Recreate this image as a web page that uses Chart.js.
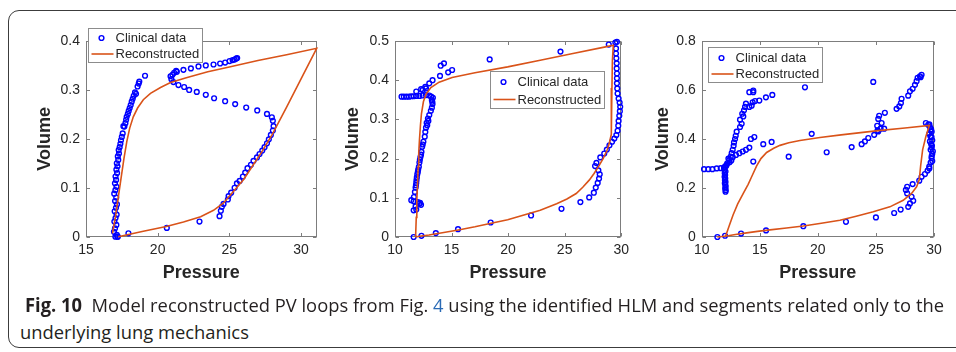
<!DOCTYPE html>
<html><head><meta charset="utf-8">
<script src="https://cdn.jsdelivr.net/npm/chart.js@4.4.1/dist/chart.umd.min.js"></script>
<style>
html,body{margin:0;padding:0;background:#fff;width:956px;height:352px;overflow:hidden;}
body{position:relative;}
.frame{position:absolute;left:8px;top:10px;width:1000px;height:338px;border:1px solid #3c3c3c;border-radius:11px;box-sizing:border-box;}
canvas{position:absolute;}
.cap{position:absolute;font-family:"Open Sans",sans-serif;font-size:19px;line-height:27px;color:#231f20;white-space:nowrap;transform-origin:0 0;}
.cap b{font-weight:700;}
.cap .lnk{color:#2a6ab5;}
</style></head>
<body>
<div class="frame"></div>
<canvas id="c1" width="312" height="280" style="left:22px;top:15px"></canvas>
<canvas id="c2" width="298" height="280" style="left:336px;top:15px"></canvas>
<canvas id="c3" width="316" height="280" style="left:640px;top:15px"></canvas>
<div id="cap1" class="cap" style="left:25px;top:292px"><b>Fig. 10</b>&nbsp; Model reconstructed PV loops from Fig. <span class="lnk">4</span> using the identified HLM and segments related only to the</div>
<div id="cap2" class="cap" style="left:20px;top:319px">underlying lung mechanics</div>
<script>
// ---------- DATA ----------
const seriesLabels = ["Clinical data", "Reconstructed"];
const xTitle = "Pressure";
const yTitle = "Volume";

// Panel 1
const p1ClinP = [17.05,17.22,17.15,16.95,17.02,17.12,16.98,17.06,17.14,17.0,17.09,17.16,17.03,17.11,16.97,17.05,17.13,17.02,17.1,17.06,17.17,17.12,17.2,17.15,17.25,17.22,17.3,17.28,17.35,17.4,17.44,17.5,17.56,17.61,17.68,17.75,17.8,17.84,17.92,17.98,18.05,18.12,18.19,18.26,18.33,18.42,18.49,18.6,18.68,18.72,19.12,
 20.9,20.96,21.03,21.15,21.29,21.34,21.8,22.32,22.85,23.36,23.9,24.36,24.71,25.02,25.23,25.37,25.48,25.55,
 21.1,21.45,21.85,22.2,22.73,23.36,23.94,24.71,25.41,26.18,26.95,27.63,27.97,28.04,
 28.09,28.04,27.9,27.76,27.63,27.46,27.3,27.11,26.93,26.69,26.51,26.27,26.11,25.95,25.72,25.53,25.37,25.13,24.95,24.9,24.6,24.48,24.41,24.32,22.92,20.64,17.96,17.19];
const p1ClinV = [0.000,0.000,0.004,0.010,0.017,0.024,0.031,0.038,0.045,0.052,0.059,0.066,0.073,0.080,0.088,0.095,0.102,0.109,0.116,0.123,0.130,0.137,0.144,0.150,0.157,0.164,0.170,0.177,0.183,0.190,0.197,0.204,0.211,0.226,0.225,0.232,0.239,0.245,0.251,0.257,0.263,0.269,0.276,0.282,0.288,0.295,0.292,0.307,0.313,0.317,0.329,
 0.328,0.322,0.331,0.335,0.339,0.337,0.341,0.344,0.348,0.350,0.352,0.354,0.356,0.359,0.361,0.362,0.364,0.365,
 0.316,0.310,0.306,0.300,0.296,0.290,0.283,0.277,0.271,0.264,0.258,0.251,0.244,0.237,
 0.226,0.217,0.208,0.199,0.191,0.183,0.176,0.169,0.162,0.155,0.147,0.140,0.131,0.123,0.114,0.109,0.100,0.090,0.083,0.076,0.067,0.061,0.053,0.042,0.031,0.018,0.007,0.000];
const p1RecP = [16.85,17.05,17.25,17.45,17.65,17.85,18.05,18.3,18.6,19.0,19.5,20.2,20.9,22.0,23.5,25.0,27.0,29.0,31.1,
 30.0,29.0,28.0,27.3,26.7,26.0,25.3,24.6,23.9,23.0,21.8,20.6,19.0,17.25];
const p1RecV = [0.007,0.04,0.08,0.12,0.16,0.195,0.222,0.245,0.263,0.28,0.293,0.305,0.315,0.325,0.337,0.347,0.36,0.372,0.385,
 0.322,0.265,0.209,0.175,0.148,0.117,0.093,0.069,0.054,0.041,0.030,0.021,0.011,0.0];
const p1XTicks = [15, 20, 25, 30];
const p1YTicks = [0, 0.1, 0.2, 0.3, 0.4];

// Panel 2
const p2ClinP = [10.58,10.78,11.01,11.24,11.44,11.65,11.88,12.16,12.45,12.74,13.03,13.2,
 11.88,12.31,12.68,13.03,13.32,13.98,14.04,14.33,14.7,15.05,12.45,12.74,
 13.26,13.32,13.26,13.17,13.03,12.91,12.8,12.74,12.68,12.63,12.51,12.4,12.34,12.25,12.16,12.11,12.02,11.93,11.88,11.82,11.76,11.67,11.44,11.65,12.02,12.22,11.82,11.65,11.88,
 13.35,13.3,12.95,12.85,12.45,12.3,12.2,12.05,11.97,11.9,11.85,12.15,12.3,
 18.37,24.63,28.9,29.48,29.62,
 29.54,29.54,29.57,29.6,29.6,29.62,29.62,29.62,29.65,29.68,29.77,29.86,29.91,29.88,29.83,29.77,29.74,29.68,29.57,29.39,29.19,28.96,28.73,28.5,28.15,27.81,27.69,27.98,28.1,28.04,27.92,27.75,27.58,27.17,26.39,24.72,22.03,18.46,15.57,13.61,12.34,11.65];
const p2ClinV = [0.358,0.358,0.358,0.358,0.359,0.359,0.360,0.360,0.361,0.362,0.361,0.358,
 0.371,0.377,0.383,0.392,0.400,0.411,0.437,0.443,0.420,0.426,0.375,0.379,
 0.349,0.339,0.330,0.322,0.311,0.302,0.291,0.279,0.268,0.256,0.243,0.230,0.217,0.204,0.190,0.179,0.166,0.152,0.138,0.126,0.115,0.102,0.094,0.091,0.089,0.087,0.078,0.068,0.070,
 0.355,0.345,0.296,0.285,0.236,0.210,0.197,0.172,0.160,0.145,0.132,0.085,0.082,
 0.453,0.473,0.491,0.496,0.498,
 0.481,0.468,0.456,0.443,0.430,0.417,0.405,0.392,0.379,0.366,0.353,0.343,0.332,0.321,0.309,0.296,0.284,0.271,0.260,0.251,0.243,0.234,0.223,0.213,0.203,0.189,0.181,0.170,0.160,0.149,0.138,0.126,0.113,0.101,0.089,0.072,0.055,0.037,0.020,0.010,0.003,0.000];
const p2RecP = [11.82,11.88,11.93,12.0,12.05,12.1,12.16,12.25,12.34,12.51,12.74,13.17,13.9,15.05,17.07,19.96,22.84,25.73,28.61,29.3,
 29.22,29.18,29.15,29.1,28.95,28.76,28.4,28.04,27.6,27.17,26.6,26.02,25.2,24.29,22.84,21.4,19.96,18.5,17.07,15.6,14.18,13.0,12.16,11.82];
const p2RecV = [0.0,0.05,0.094,0.14,0.179,0.215,0.247,0.285,0.315,0.345,0.364,0.381,0.395,0.407,0.419,0.434,0.451,0.468,0.485,0.489,
 0.45,0.38,0.30,0.262,0.24,0.222,0.20,0.182,0.162,0.145,0.127,0.111,0.097,0.085,0.068,0.056,0.044,0.035,0.026,0.018,0.011,0.005,0.002,0.0];
const p2XTicks = [10, 15, 20, 25, 30];
const p2YTicks = [0, 0.1, 0.2, 0.3, 0.4, 0.5];

// Panel 3
const p3ClinP = [10.2,10.57,10.92,11.29,11.64,11.92,
 12.0,11.96,12.05,11.98,12.02,11.97,12.03,12.0,12.05,11.99,12.04,12.06,12.02,12.07,12.05,12.1,12.15,
 12.2,12.38,12.5,12.58,12.67,12.75,12.78,12.87,12.93,13.01,13.3,13.44,13.3,13.58,13.49,13.64,13.73,13.81,14.1,14.3,14.39,14.59,14.1,14.44,14.44,14.96,15.53,16.08,18.89,
 12.67,12.95,13.24,13.53,13.81,14.1,14.24,14.53,14.44,15.3,16.02,17.49,19.47,20.76,22.91,23.77,24.05,24.34,24.85,25.2,
 12.4,12.55,12.3,
 24.77,26.78,27.01,27.15,27.21,27.78,27.93,28.16,28.36,28.5,28.59,28.79,28.93,28.85,
 25.2,25.28,25.49,25.71,25.77,25.11,25.4,25.14,
 29.3,29.5,29.65,29.71,29.59,29.79,29.65,29.82,29.71,29.85,29.79,29.71,29.59,29.45,29.22,28.93,28.73,28.16,27.69,27.58,27.69,28.07,28.21,27.93,27.78,27.13,26.57,25.0,22.42,18.75,15.54,13.39,12.01,11.35,
 29.6,29.75,29.8,29.7,29.85,29.75,29.8,29.9,29.8,29.85,29.6];
const p3ClinV = [0.277,0.277,0.277,0.280,0.281,0.282,
 0.287,0.274,0.267,0.260,0.253,0.246,0.239,0.232,0.225,0.219,0.212,0.205,0.198,0.191,0.185,0.290,0.295,
 0.301,0.315,0.328,0.342,0.356,0.372,0.386,0.400,0.413,0.430,0.449,0.462,0.479,0.492,0.503,0.517,0.531,0.544,0.531,0.536,0.550,0.555,0.591,0.598,0.591,0.557,0.570,0.580,0.611,
 0.326,0.335,0.342,0.349,0.356,0.365,0.400,0.408,0.308,0.379,0.388,0.328,0.421,0.346,0.367,0.379,0.390,0.404,0.417,0.431,
 0.305,0.312,0.320,
 0.633,0.523,0.533,0.547,0.564,0.577,0.595,0.605,0.621,0.636,0.650,0.656,0.662,0.652,
 0.482,0.495,0.465,0.442,0.507,0.454,0.442,0.435,
 0.465,0.458,0.449,0.435,0.421,0.408,0.390,0.373,0.356,0.339,0.322,0.304,0.287,0.271,0.257,0.246,0.230,0.216,0.205,0.192,0.178,0.164,0.148,0.137,0.123,0.112,0.098,0.080,0.062,0.044,0.027,0.014,0.005,0.0,
 0.460,0.440,0.430,0.410,0.395,0.380,0.365,0.350,0.330,0.310,0.280];
const p3RecP = [12.07,12.4,12.7,13.1,13.58,14.0,14.3,14.73,15.1,15.59,16.2,16.74,17.5,18.46,20.18,22.0,25.0,27.5,29.6,
 29.3,29.02,28.85,28.73,28.5,28.07,27.35,26.2,24.77,23.3,21.9,20.3,18.75,17.3,15.88,14.8,13.87,12.9,12.15,11.35];
const p3RecV = [0.005,0.05,0.09,0.135,0.178,0.215,0.246,0.29,0.32,0.345,0.362,0.374,0.385,0.394,0.406,0.417,0.433,0.445,0.455,
 0.41,0.356,0.29,0.233,0.205,0.178,0.15,0.123,0.103,0.085,0.068,0.056,0.045,0.037,0.029,0.023,0.017,0.01,0.004,0.0];
const p3XTicks = [10, 15, 20, 25, 30];
const p3YTicks = [0, 0.2, 0.4, 0.6, 0.8];

// ---------- RENDERING ----------
Chart.defaults.font.family = '"Liberation Sans", Arial, sans-serif';
const AXIS = '#7d7d7d';
const TXT = '#262626';

function pts(xs, ys){ return xs.map((x,i)=>({x:x, y:ys[i]})); }

const boxPlugin = {
  id: 'matlabBox',
  beforeDatasetsDraw(chart){
    const ctx = chart.ctx, a = chart.chartArea, sx = chart.scales.x, sy = chart.scales.y;
    ctx.save();
    ctx.strokeStyle = AXIS; ctx.lineWidth = 1;
    const L = Math.round(a.left)+0.5, R = Math.round(a.right)-0.5, T = Math.round(a.top)+0.5, B = Math.round(a.bottom)-0.5;
    ctx.strokeRect(L, T, R-L, B-T);
    const tl = 3.5;
    ctx.beginPath();
    sx.ticks.forEach(t => {
      const px = Math.round(sx.getPixelForValue(t.value))+0.5;
      ctx.moveTo(px, B); ctx.lineTo(px, B-tl);
      ctx.moveTo(px, T); ctx.lineTo(px, T+tl);
    });
    sy.ticks.forEach(t => {
      const py = Math.round(sy.getPixelForValue(t.value))+0.5;
      ctx.moveTo(L, py); ctx.lineTo(L+tl, py);
      ctx.moveTo(R, py); ctx.lineTo(R-tl, py);
    });
    ctx.stroke();
    ctx.restore();
  }
};

const legendPlugin = {
  id: 'pvLegend',
  afterDraw(chart, args, o){
    const ctx = chart.ctx, a = chart.chartArea, ds = chart.data.datasets;
    const x0 = Math.round(a.left + o.dx)+0.5, y0 = Math.round(a.top + o.dy)+0.5, w = 114, h = o.h;
    ctx.save();
    ctx.fillStyle = '#fff'; ctx.fillRect(x0, y0, w, h);
    ctx.strokeStyle = '#8c8c8c'; ctx.lineWidth = 1; ctx.strokeRect(x0, y0, w, h);
    const r1 = y0 + o.r1, r2 = y0 + o.r2;
    ctx.beginPath(); ctx.arc(x0+13, r1, 2.4, 0, Math.PI*2);
    ctx.strokeStyle = ds[0].pointBorderColor; ctx.lineWidth = 1.4; ctx.stroke();
    ctx.beginPath(); ctx.moveTo(x0+3, r2); ctx.lineTo(x0+25, r2);
    ctx.strokeStyle = ds[1].borderColor; ctx.lineWidth = 1.6; ctx.stroke();
    ctx.fillStyle = TXT; ctx.font = '13px "Liberation Sans", Arial, sans-serif';
    ctx.textBaseline = 'middle'; ctx.textAlign = 'left';
    ctx.fillText(ds[0].label, x0+27, r1+0.5);
    ctx.fillText(ds[1].label, x0+27, r2+0.5);
    ctx.restore();
  }
};

function makePanel(id, g, clinP, clinV, recP, recV, xTicks, yTicks, leg){
  const xStep = xTicks[1]-xTicks[0], yStep = yTicks[1]-yTicks[0];
  const tickFont = {size: 14};
  const titleFont = {size: 18, weight: 'bold', lineHeight: 1.2};
  new Chart(document.getElementById(id), {
    type: 'scatter',
    data: { datasets: [
      { label: seriesLabels[0], data: pts(clinP, clinV), showLine: false,
        pointStyle: 'circle', pointRadius: 2.4, pointHoverRadius: 2.4,
        pointBorderColor: '#0000ff', pointBackgroundColor: 'rgba(0,0,0,0)', pointBorderWidth: 1.4,
        borderColor: '#0000ff', backgroundColor: 'rgba(0,0,0,0)', order: 1, clip: 6 },
      { label: seriesLabels[1], data: pts(recP, recV), showLine: true, pointRadius: 0, pointHoverRadius: 0,
        borderColor: '#d95319', backgroundColor: '#d95319', borderWidth: 1.6, tension: 0, fill: false, order: 0, clip: 3 }
    ]},
    options: {
      responsive: false, animation: false, devicePixelRatio: 1,
      layout: { padding: { left: 0, top: g.padTop, right: g.padRight, bottom: 0 } },
      plugins: { legend: { display: false }, tooltip: { enabled: false }, pvLegend: leg },
      scales: {
        x: { type: 'linear', position: 'bottom', min: g.xmin, max: g.xmax,
          ticks: { stepSize: xStep, includeBounds: false, padding: 5, color: TXT, font: tickFont, maxRotation: 0, autoSkip: false },
          grid: { display: false, drawTicks: false }, border: { display: false },
          title: { display: true, text: xTitle, color: TXT, font: titleFont, padding: { top: 0, bottom: g.xTitlePad } },
          afterFit: s => { s.height = g.xAxisH; } },
        y: { type: 'linear', position: 'left', min: g.ymin, max: g.ymax,
          ticks: { stepSize: yStep, padding: 6, color: TXT, font: tickFont, autoSkip: false },
          grid: { display: false, drawTicks: false }, border: { display: false },
          title: { display: true, text: yTitle, color: TXT, font: titleFont, padding: { top: g.yTitlePad, bottom: 0 } },
          afterFit: s => { s.width = g.yAxisW; } }
      }
    },
    plugins: [boxPlugin, legendPlugin]
  });
}

makePanel('c1', {padTop: 26, padRight: 17.3, xAxisH: 58.3, yAxisW: 64, xTitlePad: 11.2, yTitlePad: 12.2, xmin: 15, xmax: 31.1, ymin: 0, ymax: 0.4},
  p1ClinP, p1ClinV, p1RecP, p1RecV, p1XTicks, p1YTicks, {dx: 2, dy: -13, h: 34, r1: 9.5, r2: 25.5});
makePanel('c2', {padTop: 26, padRight: 8, xAxisH: 58, yAxisW: 59, xTitlePad: 11.2, yTitlePad: 6.5, xmin: 10, xmax: 30, ymin: 0, ymax: 0.5},
  p2ClinP, p2ClinV, p2RecP, p2RecV, p2XTicks, p2YTicks, {dx: 95, dy: 30, h: 37, r1: 10.5, r2: 28});
makePanel('c3', {padTop: 26, padRight: 22, xAxisH: 58, yAxisW: 61.7, xTitlePad: 11.2, yTitlePad: 12.5, xmin: 10, xmax: 30, ymin: 0, ymax: 0.8},
  p3ClinP, p3ClinV, p3RecP, p3RecV, p3XTicks, p3YTicks, {dx: 6.5, dy: 5.7, h: 35, r1: 10.5, r2: 26.5});

// caption fit
(function(){
  const c1 = document.getElementById('cap1'), c2 = document.getElementById('cap2');
  const target = 944 - 25;
  const s = target / c1.getBoundingClientRect().width;
  c1.style.transform = 'scaleX(' + s + ')';
  c2.style.transform = 'scaleX(' + s + ')';
})();
</script>
</body></html>
